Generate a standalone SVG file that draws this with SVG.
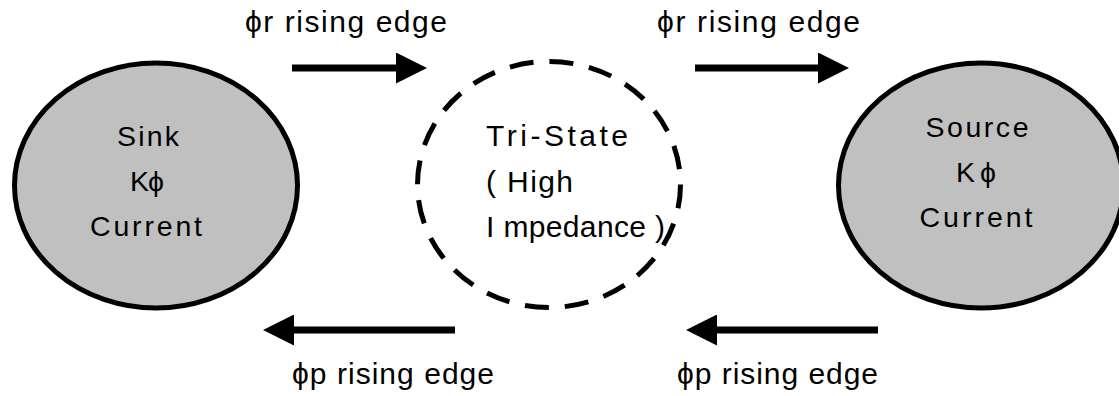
<svg xmlns="http://www.w3.org/2000/svg" width="1119" height="396" viewBox="0 0 1119 396">
<style>
.state{fill:#c0c0c0;stroke:#000;stroke-width:5}
.tri{fill:none;stroke:#000;stroke-width:5;stroke-dasharray:24 16}
.conn{stroke:#000;stroke-width:7;fill:none}
text{font-family:"Liberation Sans","DejaVu Sans",sans-serif;fill:#000}
.lbl{font-size:30px}
.nt{font-size:28.5px;text-anchor:middle}
.tt{font-size:30px}
</style>
<defs>
<marker id="ah" markerUnits="userSpaceOnUse" markerWidth="31" markerHeight="31" viewBox="0 0 31 31" refX="2" refY="15.5" orient="auto">
<path d="M0,0 L31,15.5 L0,31 Z" fill="#000"/>
</marker>
</defs>
<rect width="1119" height="396" fill="#fff"/>
<g id="sink">
<ellipse class="state" cx="156" cy="185.5" rx="141.5" ry="122.5"/>
<text class="nt" x="148" y="146" textLength="62" lengthAdjust="spacing">Sink</text>
<text class="nt" x="147" y="191" textLength="34" lengthAdjust="spacing">Kϕ</text>
<text class="nt" x="146" y="236" textLength="112" lengthAdjust="spacing">Current</text>
</g>
<g id="tristate">
<ellipse class="tri" cx="549" cy="184.5" rx="131.5" ry="123"/>
<text class="tt" x="486" y="146" textLength="142" lengthAdjust="spacing">Tri-State</text>
<text class="tt" x="486" y="192" textLength="87" lengthAdjust="spacing">( High</text>
<text class="tt" x="486" y="237" textLength="179" lengthAdjust="spacing">I mpedance )</text>
</g>
<g id="source">
<ellipse class="state" cx="981" cy="185.5" rx="142.5" ry="122.5"/>
<text class="nt" x="977" y="137" textLength="103" lengthAdjust="spacing">Source</text>
<text class="nt" x="976" y="182" textLength="40" lengthAdjust="spacing">Kϕ</text>
<text class="nt" x="976" y="227" textLength="113" lengthAdjust="spacing">Current</text>
</g>
<g id="connectors">
<line class="conn" x1="292" y1="68" x2="398" y2="68" marker-end="url(#ah)"/>
<line class="conn" x1="695" y1="68" x2="820" y2="68" marker-end="url(#ah)"/>
<line class="conn" x1="455" y1="330" x2="292" y2="330" marker-end="url(#ah)"/>
<line class="conn" x1="878" y1="330" x2="715" y2="330" marker-end="url(#ah)"/>
<text class="lbl" x="245" y="32" textLength="202" lengthAdjust="spacing">ϕr rising edge</text>
<text class="lbl" x="657" y="32" textLength="203" lengthAdjust="spacing">ϕr rising edge</text>
<text class="lbl" x="292" y="384" textLength="202" lengthAdjust="spacing">ϕp rising edge</text>
<text class="lbl" x="677" y="384" textLength="201" lengthAdjust="spacing">ϕp rising edge</text>
</g>
</svg>
